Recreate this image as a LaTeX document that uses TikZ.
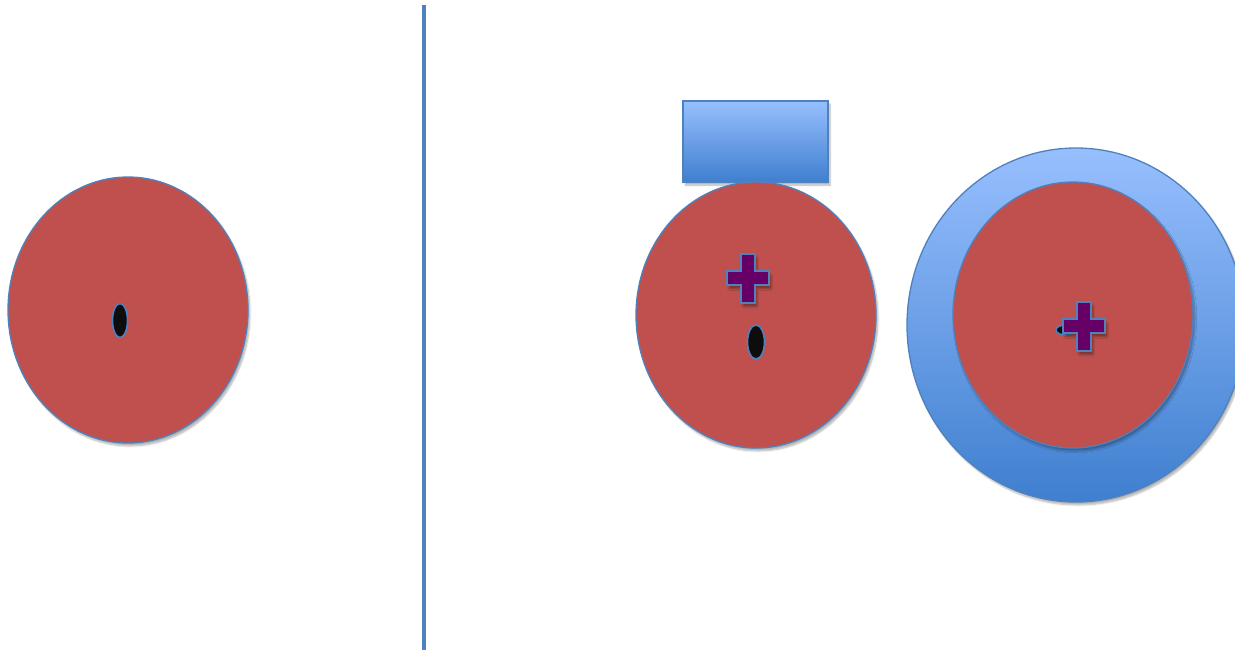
\documentclass[tikz,border=0pt]{standalone}
\usetikzlibrary{shadows,shadows.blur}
\definecolor{cellred}{HTML}{C0504D}
\definecolor{edgeblue}{HTML}{4F81BD}
\definecolor{lightblue}{HTML}{97BFFE}
\definecolor{darkblue}{HTML}{3F7FCF}
\definecolor{plusfill}{HTML}{660066}
\definecolor{dotfill}{HTML}{0D0D0D}
\tikzset{
  cell/.style={fill=cellred, draw=edgeblue, line width=1.3pt, blur shadow={shadow xshift=2pt, shadow yshift=-3pt, shadow opacity=30, shadow blur steps=6}},
  shell/.style={draw=edgeblue, line width=1.3pt, top color=lightblue, bottom color=darkblue, blur shadow={shadow xshift=2pt, shadow yshift=-3pt, shadow opacity=30, shadow blur steps=6}},
  dot/.style={fill=dotfill, draw=edgeblue, line width=1.6pt},
  plusstyle/.style={fill=plusfill, draw=edgeblue, line width=2pt, blur shadow={shadow xshift=2pt, shadow yshift=-4pt, shadow opacity=35, shadow blur steps=5}},
  plussign/.pic={
    \path[plusstyle] (-7,-24.5) -- (7,-24.5) -- (7,-6.7) -- (21,-6.7) -- (21,6.7) -- (7,6.7) -- (7,24.5) -- (-7,24.5) -- (-7,6.7) -- (-21,6.7) -- (-21,-6.7) -- (-7,-6.7) -- cycle;
  }
}
\begin{document}
\begin{tikzpicture}[x=1pt,y=-1pt]
\useasboundingbox (0,0) rectangle (1235,657);
\clip (0,0) rectangle (1235,657);
% left cell
\path[cell] (128,310) ellipse [x radius=120, y radius=133];
\path[dot] (120,320.5) ellipse [x radius=7.5, y radius=17];
% divider
\draw[edgeblue, line width=4pt] (424,5) -- (424,650);
% middle
\path[shell] (683,101) rectangle (828,182);
\path[cell] (756,315) ellipse [x radius=120, y radius=133];
\pic at (748,278) {plussign};
\path[dot] (756,342) ellipse [x radius=8.5, y radius=17];
% right
\path[shell] (1076,325) ellipse [x radius=169, y radius=177];
\path[cell] (1073,315) ellipse [x radius=120, y radius=133];
\path[dot] (1065,330) ellipse [x radius=9, y radius=5];
\pic at (1084,326) {plussign};
\end{tikzpicture}
\end{document}
